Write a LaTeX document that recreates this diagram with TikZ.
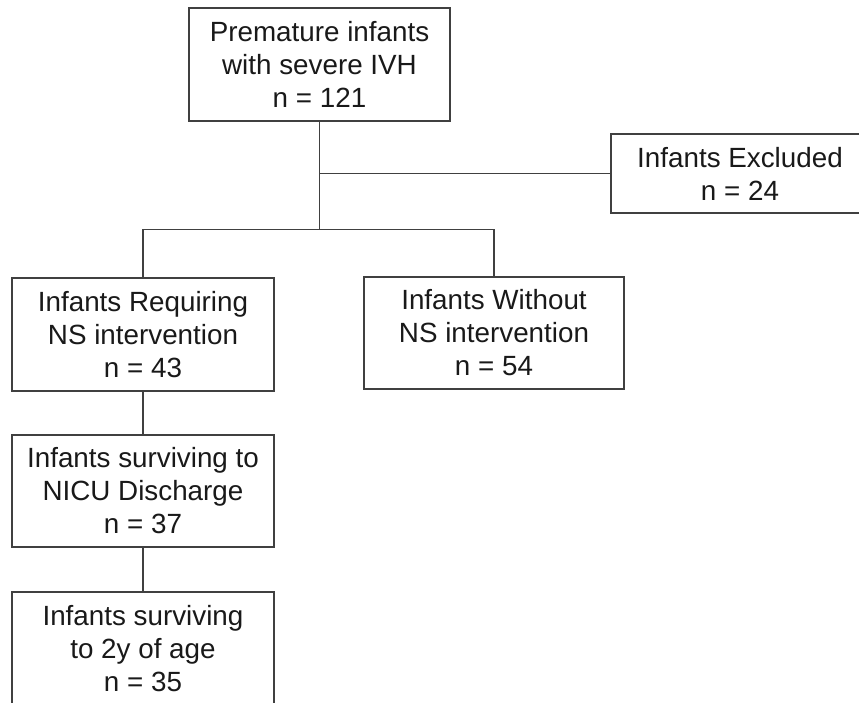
\documentclass[tikz,border=0pt]{standalone}
\usepackage{fontspec}
\setmainfont{Liberation Sans}
\usepackage{tikz}

\tikzset{box/.style={draw=black!75, line width=0.6pt, align=center, inner sep=0pt,
  minimum width=131pt, minimum height=56.5pt, text=black!90,
  font=\fontsize{13.9}{16.5}\selectfont}}
\tikzset{link/.style={draw=black!75, line width=0.65pt}}

\begin{document}
\begin{tikzpicture}[x=0.5pt,y=-0.5pt]
\useasboundingbox (0,0) rectangle (859,703);
\clip (0,0) rectangle (859,703);
\node[box, minimum width=130.5pt] (total) at (319.5,64.5) {Premature infants\\with severe IVH\\n = 121};
\node[box, minimum width=129pt, minimum height=39.5pt] (excluded) at (740,173.5) {Infants Excluded\\n = 24};
\node[box] (ns) at (143,334.5) {Infants Requiring\\NS intervention\\n = 43};
\node[box, minimum width=130pt, minimum height=56pt] (nons) at (494,333) {Infants Without\\NS intervention\\n = 54};
\node[box, minimum height=56pt] (nicu) at (143,491) {Infants surviving to\\NICU Discharge\\n = 37};
\node[box] (age) at (143,648.5) {Infants surviving\\to 2y of age\\n = 35};
\path (total.south) ++(0,108) coordinate (split);
%\draw (total.south) -- (excluded.west);
\draw[link] (total.south) -- (split);
\draw[link] (total.south |- excluded.west) -- (excluded.west);
\draw[link] (ns.north) |- (split) -| (nons.north);
\draw[link] (ns.south) -- (nicu.north);
\draw[link] (nicu.south) -- (age.north);
\end{tikzpicture}
\end{document}
